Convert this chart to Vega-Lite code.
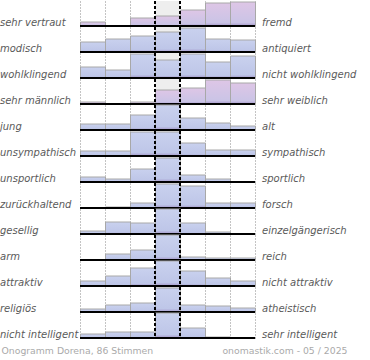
{
  "$schema": "https://vega.github.io/schema/vega-lite/v6.json",
  "padding": 0,
  "background": "white",
  "data": {"values": [
    {"i":1,"l":"sehr vertraut","r":"fremd","k":0,"v":4},{"i":1,"l":"sehr vertraut","r":"fremd","k":1,"v":0},{"i":1,"l":"sehr vertraut","r":"fremd","k":2,"v":8},{"i":1,"l":"sehr vertraut","r":"fremd","k":3,"v":10},{"i":1,"l":"sehr vertraut","r":"fremd","k":4,"v":16},{"i":1,"l":"sehr vertraut","r":"fremd","k":5,"v":23},{"i":1,"l":"sehr vertraut","r":"fremd","k":6,"v":24},
    {"i":2,"l":"modisch","r":"antiquiert","k":0,"v":10},{"i":2,"l":"modisch","r":"antiquiert","k":1,"v":13},{"i":2,"l":"modisch","r":"antiquiert","k":2,"v":16},{"i":2,"l":"modisch","r":"antiquiert","k":3,"v":20},{"i":2,"l":"modisch","r":"antiquiert","k":4,"v":24},{"i":2,"l":"modisch","r":"antiquiert","k":5,"v":13},{"i":2,"l":"modisch","r":"antiquiert","k":6,"v":12},
    {"i":3,"l":"wohlklingend","r":"nicht wohlklingend","k":0,"v":11},{"i":3,"l":"wohlklingend","r":"nicht wohlklingend","k":1,"v":8},{"i":3,"l":"wohlklingend","r":"nicht wohlklingend","k":2,"v":24},{"i":3,"l":"wohlklingend","r":"nicht wohlklingend","k":3,"v":18},{"i":3,"l":"wohlklingend","r":"nicht wohlklingend","k":4,"v":24},{"i":3,"l":"wohlklingend","r":"nicht wohlklingend","k":5,"v":16},{"i":3,"l":"wohlklingend","r":"nicht wohlklingend","k":6,"v":22},
    {"i":4,"l":"sehr männlich","r":"sehr weiblich","k":0,"v":2},{"i":4,"l":"sehr männlich","r":"sehr weiblich","k":1,"v":0},{"i":4,"l":"sehr männlich","r":"sehr weiblich","k":2,"v":2},{"i":4,"l":"sehr männlich","r":"sehr weiblich","k":3,"v":14},{"i":4,"l":"sehr männlich","r":"sehr weiblich","k":4,"v":16},{"i":4,"l":"sehr männlich","r":"sehr weiblich","k":5,"v":24},{"i":4,"l":"sehr männlich","r":"sehr weiblich","k":6,"v":21},
    {"i":5,"l":"\u00a0jung","r":"alt","k":0,"v":6},{"i":5,"l":"\u00a0jung","r":"alt","k":1,"v":6},{"i":5,"l":"\u00a0jung","r":"alt","k":2,"v":15},{"i":5,"l":"\u00a0jung","r":"alt","k":3,"v":25},{"i":5,"l":"\u00a0jung","r":"alt","k":4,"v":12},{"i":5,"l":"\u00a0jung","r":"alt","k":5,"v":7},{"i":5,"l":"\u00a0jung","r":"alt","k":6,"v":4},
    {"i":6,"l":"unsympathisch","r":"sympathisch","k":0,"v":5},{"i":6,"l":"unsympathisch","r":"sympathisch","k":1,"v":5},{"i":6,"l":"unsympathisch","r":"sympathisch","k":2,"v":24},{"i":6,"l":"unsympathisch","r":"sympathisch","k":3,"v":24},{"i":6,"l":"unsympathisch","r":"sympathisch","k":4,"v":13},{"i":6,"l":"unsympathisch","r":"sympathisch","k":5,"v":6},{"i":6,"l":"unsympathisch","r":"sympathisch","k":6,"v":6},
    {"i":7,"l":"unsportlich","r":"sportlich","k":0,"v":5},{"i":7,"l":"unsportlich","r":"sportlich","k":1,"v":3},{"i":7,"l":"unsportlich","r":"sportlich","k":2,"v":13},{"i":7,"l":"unsportlich","r":"sportlich","k":3,"v":24},{"i":7,"l":"unsportlich","r":"sportlich","k":4,"v":7},{"i":7,"l":"unsportlich","r":"sportlich","k":5,"v":3},{"i":7,"l":"unsportlich","r":"sportlich","k":6,"v":0},
    {"i":8,"l":"zurückhaltend","r":"forsch","k":0,"v":0},{"i":8,"l":"zurückhaltend","r":"forsch","k":1,"v":1},{"i":8,"l":"zurückhaltend","r":"forsch","k":2,"v":5},{"i":8,"l":"zurückhaltend","r":"forsch","k":3,"v":24},{"i":8,"l":"zurückhaltend","r":"forsch","k":4,"v":22},{"i":8,"l":"zurückhaltend","r":"forsch","k":5,"v":5},{"i":8,"l":"zurückhaltend","r":"forsch","k":6,"v":5},
    {"i":9,"l":"gesellig","r":"einzelgängerisch","k":0,"v":3},{"i":9,"l":"gesellig","r":"einzelgängerisch","k":1,"v":12},{"i":9,"l":"gesellig","r":"einzelgängerisch","k":2,"v":11},{"i":9,"l":"gesellig","r":"einzelgängerisch","k":3,"v":25},{"i":9,"l":"gesellig","r":"einzelgängerisch","k":4,"v":11},{"i":9,"l":"gesellig","r":"einzelgängerisch","k":5,"v":2},{"i":9,"l":"gesellig","r":"einzelgängerisch","k":6,"v":0},
    {"i":10,"l":"arm","r":"reich","k":0,"v":0},{"i":10,"l":"arm","r":"reich","k":1,"v":6},{"i":10,"l":"arm","r":"reich","k":2,"v":10},{"i":10,"l":"arm","r":"reich","k":3,"v":25},{"i":10,"l":"arm","r":"reich","k":4,"v":3},{"i":10,"l":"arm","r":"reich","k":5,"v":2},{"i":10,"l":"arm","r":"reich","k":6,"v":2},
    {"i":11,"l":"attraktiv","r":"nicht attraktiv","k":0,"v":5},{"i":11,"l":"attraktiv","r":"nicht attraktiv","k":1,"v":10},{"i":11,"l":"attraktiv","r":"nicht attraktiv","k":2,"v":18},{"i":11,"l":"attraktiv","r":"nicht attraktiv","k":3,"v":25},{"i":11,"l":"attraktiv","r":"nicht attraktiv","k":4,"v":15},{"i":11,"l":"attraktiv","r":"nicht attraktiv","k":5,"v":8},{"i":11,"l":"attraktiv","r":"nicht attraktiv","k":6,"v":5},
    {"i":12,"l":"religiös","r":"atheistisch","k":0,"v":3},{"i":12,"l":"religiös","r":"atheistisch","k":1,"v":7},{"i":12,"l":"religiös","r":"atheistisch","k":2,"v":9},{"i":12,"l":"religiös","r":"atheistisch","k":3,"v":24},{"i":12,"l":"religiös","r":"atheistisch","k":4,"v":7},{"i":12,"l":"religiös","r":"atheistisch","k":5,"v":6},{"i":12,"l":"religiös","r":"atheistisch","k":6,"v":4},
    {"i":13,"l":"nicht intelligent","r":"sehr intelligent","k":0,"v":4},{"i":13,"l":"nicht intelligent","r":"sehr intelligent","k":1,"v":6},{"i":13,"l":"nicht intelligent","r":"sehr intelligent","k":2,"v":6},{"i":13,"l":"nicht intelligent","r":"sehr intelligent","k":3,"v":25},{"i":13,"l":"nicht intelligent","r":"sehr intelligent","k":4,"v":10},{"i":13,"l":"nicht intelligent","r":"sehr intelligent","k":5,"v":1},{"i":13,"l":"nicht intelligent","r":"sehr intelligent","k":6,"v":0}
  ]},
  "facet": {"row": {"field": "i", "type": "ordinal", "title": null, "header": {"labels": false, "title": null}}},
  "spacing": 1,
  "bounds": "flush",
  "spec": {
    "width": 175,
    "height": 25,
    "layer": [
      {"mark": {"type": "rect", "color": "#eeeeee"}, "encoding": {"x": {"datum": 3, "type": "quantitative"}, "x2": {"datum": 4}}},
      {"mark": {"type": "bar", "binSpacing": 0, "stroke": "#a8a8a8", "strokeWidth": 1},
       "encoding": {
         "x": {"field": "k", "type": "quantitative", "bin": {"step": 1, "extent": [0, 7]},
               "scale": {"domain": [0, 7], "nice": false, "zero": false},
               "axis": {"values": [0, 1, 2, 5, 6, 7], "title": null, "domain": false, "ticks": false, "tickSize": 0,
                        "grid": true, "gridColor": "#888888", "gridDash": [1, 2], "gridWidth": 1,
                        "labelExpr": "datum.value == 0 ? 'Onogramm Dorena, 86 Stimmen' : datum.value == 7 ? 'onomastik.com - 05 / 2025' : ''",
                        "labelAlign": {"condition": {"test": "datum.value == 0", "value": "left"}, "value": "right"},
                        "labelOffset": {"condition": {"test": "datum.value == 0", "value": -79}, "value": 92},
                        "labelFlush": false, "labelOverlap": false, "labelBound": false,
                        "labelFont": "DejaVu Sans", "labelFontSize": 9.3, "labelColor": "#aaaaaa",
                        "labelPadding": 8, "labelBaseline": "top"}},
         "y": {"field": "v", "type": "quantitative", "scale": {"domain": [0, 25], "nice": false}, "axis": null},
         "fill": {"condition": {"test": "datum.i == 1 || datum.i == 4",
                                "value": {"gradient": "linear", "x1": 0, "y1": 0, "x2": 0, "y2": 1,
                                          "stops": [{"offset": 0, "color": "#dec6e6"}, {"offset": 0.86, "color": "#cac4e6"}, {"offset": 1, "color": "#a496c8"}]}},
                  "value": {"gradient": "linear", "x1": 0, "y1": 0, "x2": 0, "y2": 1,
                            "stops": [{"offset": 0, "color": "#c9d1ee"}, {"offset": 0.86, "color": "#bec6e8"}, {"offset": 1, "color": "#a496c8"}]}}
       }},
      {"mark": {"type": "rule", "color": "black", "strokeWidth": 2}, "encoding": {"y": {"datum": 0, "type": "quantitative"}}},
      {"mark": {"type": "rule", "color": "black", "strokeDash": [3, 2], "strokeWidth": 1}, "encoding": {"x": {"datum": 3}}},
      {"mark": {"type": "rule", "color": "black", "strokeDash": [3, 2], "strokeWidth": 1}, "encoding": {"x": {"datum": 4}}},
      {"transform": [{"filter": "datum.k == 0"}],
       "mark": {"type": "text", "align": "left", "baseline": "alphabetic", "dx": -80, "font": "DejaVu Sans", "fontStyle": "italic", "fontSize": 10, "color": "#5a5a5a"},
       "encoding": {"x": {"datum": 0}, "y": {"datum": 0}, "text": {"field": "l"}}},
      {"transform": [{"filter": "datum.k == 0"}],
       "mark": {"type": "text", "align": "left", "baseline": "alphabetic", "dx": 7, "font": "DejaVu Sans", "fontStyle": "italic", "fontSize": 10, "color": "#5a5a5a"},
       "encoding": {"x": {"datum": 7}, "y": {"datum": 0}, "text": {"field": "r"}}}
    ]
  },
  "config": {"view": {"stroke": null}}
}
